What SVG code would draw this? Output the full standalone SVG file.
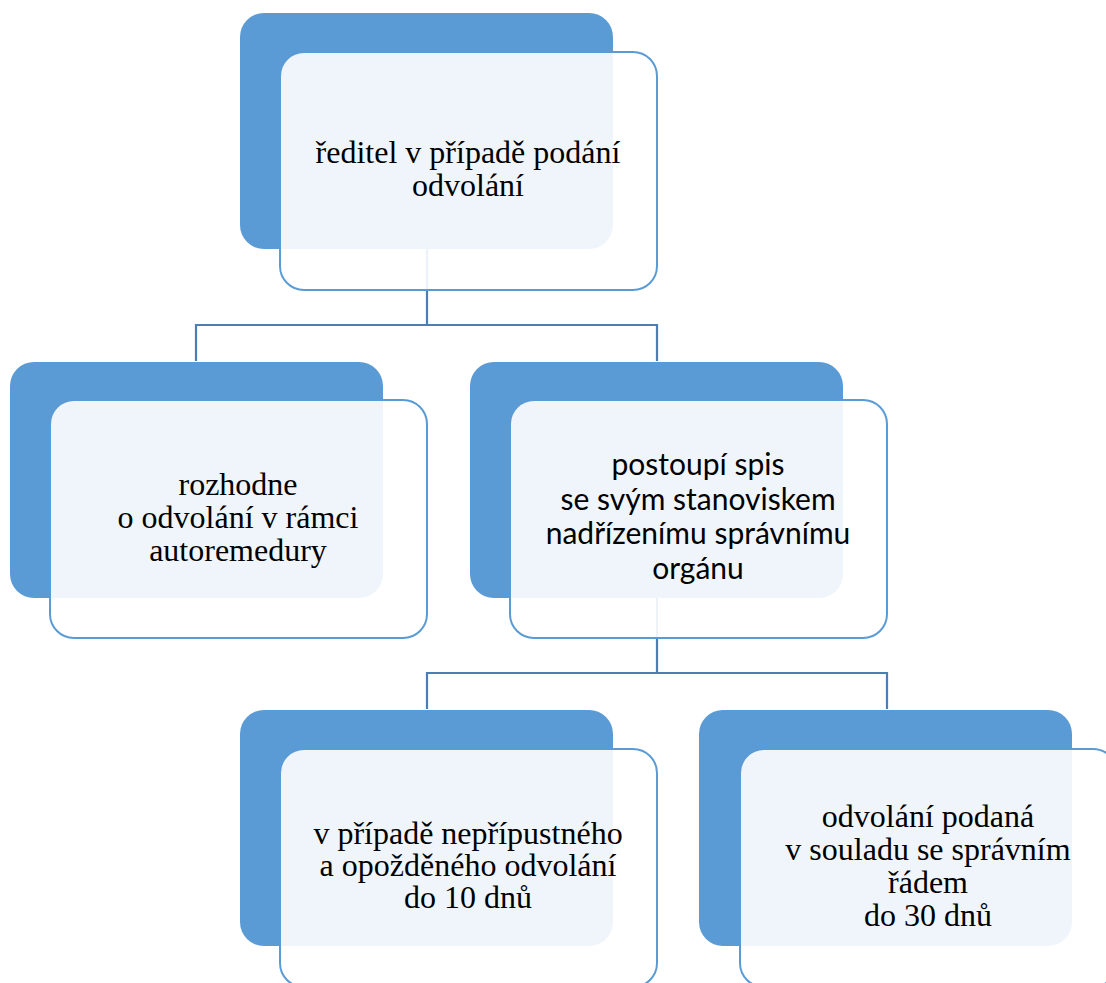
<svg xmlns="http://www.w3.org/2000/svg" width="1106" height="983" viewBox="0 0 1106 983">
<style>
.back{fill:#5B9BD5;}
.front{fill:#FFFFFF;fill-opacity:0.9;stroke:#5B9BD5;stroke-width:2;}
.conn{fill:none;stroke:#4A7EB4;stroke-width:2.2;}
.serif{font-family:"Liberation Serif","Times New Roman",serif;font-size:32px;fill:#000;text-anchor:middle;}
.sans{font-family:Lato,"Liberation Sans",sans-serif;font-size:30px;fill:#000;text-anchor:middle;}
</style>
<rect width="1106" height="983" fill="#FFFFFF"/>
<g id="connectors">
<path class="conn" d="M427,249 V325 M196,325 H657 M196,324 V361 M657,324 V361"/>
<path class="conn" d="M657,597 V673 M427,673 H887 M427,672 V709 M887,672 V709"/>
</g>
<g id="n1">
<rect class="back" x="240" y="13" width="373" height="236" rx="24"/>
<rect class="front" x="280" y="52" width="377" height="238" rx="24"/>
<text class="serif" x="468" y="163">ředitel v případě podání</text>
<text class="serif" x="468" y="196">odvolání</text>
</g>
<g id="n2">
<rect class="back" x="10" y="362" width="373" height="236" rx="24"/>
<rect class="front" x="50" y="400" width="377" height="238" rx="24"/>
<text class="serif" x="238" y="495">rozhodne</text>
<text class="serif" x="238" y="528">o odvolání v rámci</text>
<text class="serif" x="238" y="561">autoremedury</text>
</g>
<g id="n3">
<rect class="back" x="470" y="362" width="373" height="236" rx="24"/>
<rect class="front" x="510" y="400" width="377" height="238" rx="24"/>
<text class="sans" x="698" y="475">postoupí spis</text>
<text class="sans" x="698" y="510">se svým stanoviskem</text>
<text class="sans" x="698" y="544">nadřízenímu správnímu</text>
<text class="sans" x="698" y="579">orgánu</text>
</g>
<g id="n4">
<rect class="back" x="240" y="710" width="373" height="236" rx="24"/>
<rect class="front" x="280" y="749" width="377" height="238" rx="24"/>
<text class="serif" x="468" y="844">v případě nepřípustného</text>
<text class="serif" x="468" y="876">a opožděného odvolání</text>
<text class="serif" x="468" y="908">do 10 dnů</text>
</g>
<g id="n5">
<rect class="back" x="699" y="710" width="373" height="236" rx="24"/>
<rect class="front" x="740" y="749" width="377" height="238" rx="24"/>
<text class="serif" x="928" y="827">odvolání podaná</text>
<text class="serif" x="928" y="860">v souladu se správním</text>
<text class="serif" x="928" y="893">řádem</text>
<text class="serif" x="928" y="926">do 30 dnů</text>
</g>
</svg>
